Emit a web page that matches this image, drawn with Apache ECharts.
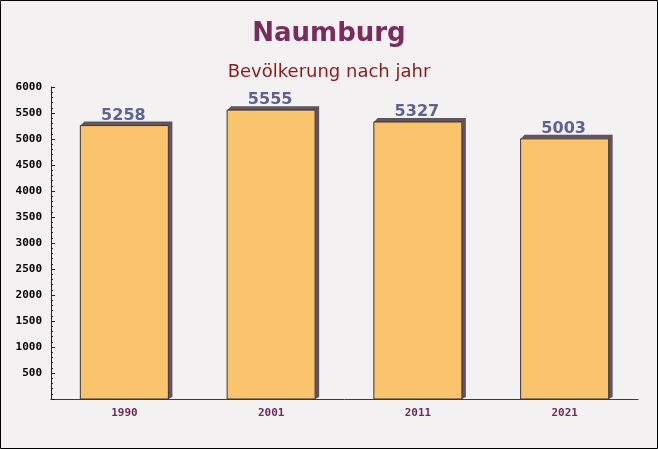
<!DOCTYPE html>
<html>
<head>
<meta charset="utf-8">
<script src="https://cdn.jsdelivr.net/npm/echarts@6/dist/echarts.min.js"></script>
<style>
html,body{margin:0;padding:0;background:#f4f1f3;}
#c{width:658px;height:449px;}
</style>
</head>
<body>
<div id="c"></div>
<script>
var categories = ['1990', '2001', '2011', '2021'];
var population = [5258, 5555, 5327, 5003];
var titleText = 'Naumburg';
var subtitleText = 'Bevölkerung nach jahr';

var chart = echarts.init(document.getElementById('c'));
var data = population.map(function (v, i) { return [i, v]; });

function renderBar(params, api) {
  var idx = api.value(0);
  var val = api.value(1);
  var top = api.coord([idx, val]);
  var base = api.coord([idx, 0]);
  var bw = api.size([1, 0])[0] * 0.6;
  var x0 = top[0] - bw / 2, x1 = top[0] + bw / 2;
  var y0 = top[1], y1 = base[1];
  var d = 4;
  return {
    type: 'group',
    children: [
      {
        type: 'polygon',
        shape: { points: [[x0 + d, y0 - d], [x1 + d, y0 - d], [x1 + d, y1 - 2], [x1, y1], [x1, y0], [x0, y0]] },
        style: { fill: '#5e5560' }
      },
      {
        type: 'rect',
        shape: { x: x0, y: y0, width: bw, height: y1 - y0 },
        style: { fill: 'rgba(249,192,96,0.92)', stroke: '#3a3438', lineWidth: 1 }
      },
      {
        type: 'text',
        style: {
          text: String(val),
          x: top[0] - 1, y: y0 - 2,
          align: 'center', verticalAlign: 'bottom',
          fill: '#5d6290',
          font: 'bold 16px "DejaVu Sans"',
          textShadowColor: 'rgba(0,0,0,0.15)', textShadowOffsetX: 1, textShadowOffsetY: 1, textShadowBlur: 0
        }
      }
    ]
  };
}

chart.setOption({
  backgroundColor: '#f4f1f3',
  animation: false,
  title: [
    { text: titleText, left: 'center', top: 16,
      textStyle: { fontFamily: 'DejaVu Sans', fontWeight: 'bold', fontSize: 26, color: '#7a2c5c' } },
    { text: subtitleText, left: 'center', top: 58,
      textStyle: { fontFamily: 'DejaVu Sans', fontWeight: 'normal', fontSize: 18, color: '#8b1a1a' } }
  ],
  graphic: [{
    type: 'rect', shape: { x: 0.5, y: 0.5, width: 657, height: 448 },
    style: { fill: 'none', stroke: '#000', lineWidth: 1 }, z: 100
  }],
  grid: { left: 51, right: 20, top: 87, bottom: 50 },
  xAxis: {
    type: 'category',
    data: categories,
    boundaryGap: true,
    axisLine: { lineStyle: { color: '#5a2a4a', width: 1 } },
    axisTick: { inside: true, length: 6, lineStyle: { color: '#5a2a4a' } },
    axisLabel: { color: '#6b2d55', fontFamily: 'DejaVu Sans Mono', fontWeight: 'bold', fontSize: 11, margin: 9 },
    splitLine: { show: false }
  },
  yAxis: {
    type: 'value',
    min: 0, max: 6000, interval: 500,
    axisLine: { show: true, lineStyle: { color: '#222', width: 1 } },
    axisTick: { show: true, inside: true, length: 4, lineStyle: { color: '#222' } },
    minorTick: { show: true, splitNumber: 5, length: 2, lineStyle: { color: '#222' } },
    axisLabel: {
      color: '#000', fontFamily: 'DejaVu Sans Mono', fontWeight: 'bold', fontSize: 11, margin: 9,
      formatter: function (v) { return v === 0 ? '' : String(v); }
    },
    splitLine: { show: false }
  },
  series: [{
    type: 'custom',
    renderItem: renderBar,
    data: data,
    encode: { x: 0, y: 1 }
  }]
});
</script>
</body>
</html>
